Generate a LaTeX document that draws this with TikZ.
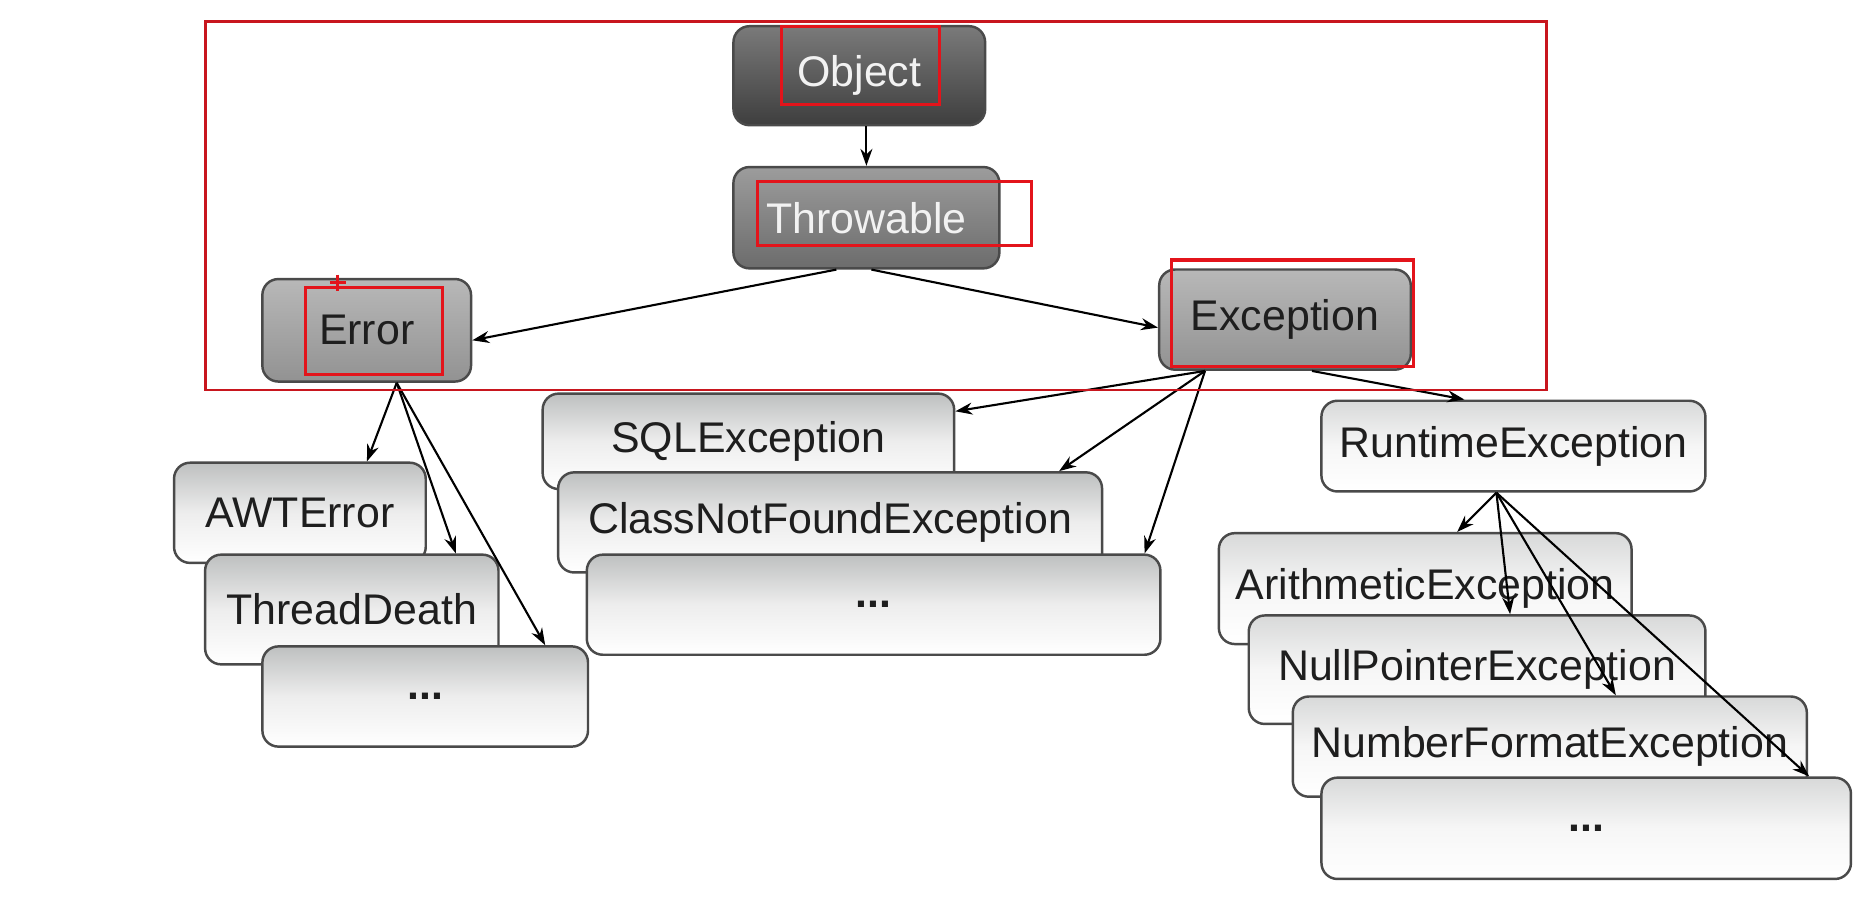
\documentclass[tikz,border=0pt]{standalone}
\usepackage{fontspec}
\setmainfont{Liberation Sans}
\usepackage{tikz}
\usetikzlibrary{arrows.meta}
\definecolor{BoxEdge}{HTML}{4A4A4A}
\definecolor{TextDark}{HTML}{1E1E1E}
\definecolor{TextLight}{HTML}{F2F2F2}
\definecolor{ObjTop}{HTML}{7A7A7A}
\definecolor{ObjBot}{HTML}{3E3E3E}
\definecolor{ThrTop}{HTML}{9C9C9C}
\definecolor{ThrBot}{HTML}{6C6C6C}
\definecolor{MidTop}{HTML}{B8B8B8}
\definecolor{MidBot}{HTML}{929292}
\definecolor{LeafTop}{HTML}{BEC0C0}
\definecolor{LightTop}{HTML}{D8D9D9}
\definecolor{MarkRed}{HTML}{E3141B}
\definecolor{FrameRed}{HTML}{C8161E}
\tikzset{
  classbox/.style={draw=BoxEdge, line width=0.7pt, rounded corners=1.6mm,
    inner sep=0pt, align=center, text=TextDark,
    font=\fontsize{12.2}{14}\selectfont},
  darkbox/.style={classbox, top color=ObjTop, bottom color=ObjBot, text=TextLight},
  greybox/.style={classbox, top color=ThrTop, bottom color=ThrBot, text=TextLight},
  midbox/.style={classbox, top color=MidTop, bottom color=MidBot},
  leafbox/.style={classbox, top color=LeafTop, bottom color=white, middle color=gray!14},
  lightbox/.style={classbox, top color=LightTop, bottom color=white, middle color=gray!7},
  arr/.style={-{Stealth[length=1.7mm,width=1.2mm]}, line width=0.6pt, black},
  redmark/.style={draw=MarkRed, line width=0.9pt}
}
\begin{document}
\begin{tikzpicture}
\useasboundingbox[fill=white] (0,0) rectangle (18.70,-9.06);

% top of the hierarchy
\node[darkbox, minimum width=2.517cm, minimum height=0.99cm] (obj) at (8.593,-0.757) {Object};
\node[greybox, minimum width=2.66cm, minimum height=1.013cm] (thr) at (8.664,-2.177) {Throwable};
\node[midbox, minimum width=2.087cm, minimum height=1.025cm] (err) at (3.667,-3.303) {Error};
\node[midbox, minimum width=2.516cm, minimum height=1.002cm] (exc) at (12.85,-3.196) {Exception};

% Error subclasses
\node[leafbox, minimum width=2.517cm, minimum height=1.002cm] (awt) at (2.999,-5.128) {AWTError};
\node[leafbox, minimum width=2.934cm, minimum height=1.097cm] (thd) at (3.518,-6.095) {ThreadDeath};
\node[leafbox, minimum width=3.256cm, minimum height=1.002cm] (dotl) at (4.252,-6.965) {\textbf{...}};

% checked exceptions
\node[leafbox, minimum width=4.115cm, minimum height=0.954cm] (sql) at (7.484,-4.413) {SQLException};
\node[leafbox, minimum width=5.439cm, minimum height=1.001cm] (cnf) at (8.301,-5.224) {ClassNotFoundException};
\node[leafbox, minimum width=5.736cm, minimum height=1.001cm] (dotm) at (8.736,-6.047) {\textbf{...}};

% runtime exceptions
\node[lightbox, minimum width=3.84cm, minimum height=0.907cm] (rte) at (15.134,-4.461) {RuntimeException};
\node[lightbox, minimum width=4.127cm, minimum height=1.109cm] (ari) at (14.252,-5.886) {ArithmeticException};
\node[lightbox, minimum width=4.567cm, minimum height=1.085cm] (npe) at (14.771,-6.697) {NullPointerException};
\node[lightbox, minimum width=5.14cm, minimum height=1.002cm] (nfe) at (15.498,-7.466) {NumberFormatException};
\node[lightbox, minimum width=5.295cm, minimum height=1.013cm] (dotr) at (15.862,-8.283) {\textbf{...}};

% inheritance arrows
\draw[arr] (thr.north |- obj.south) -- (thr.north);
\draw[arr] ([xshift=-3mm]thr.south) -- ([yshift=-1mm]err.east);
\draw[arr] ([xshift=0.5mm]thr.south) -- ([yshift=-0.8mm]exc.west);
\draw[arr] ([xshift=3mm]err.south) -- ([xshift=6.7mm]awt.north);
\draw[arr] ([xshift=3mm]err.south) -- ([xshift=10.4mm]thd.north);
\draw[arr] ([xshift=3mm]err.south) -- ([xshift=12mm]dotl.north);
\draw[arr] ([xshift=-8mm]exc.south) -- ([yshift=3mm]sql.east);
\draw[arr] ([xshift=-8mm]exc.south) -- ([xshift=22.9mm]cnf.north);
\draw[arr] ([xshift=-8mm]exc.south) -- ([xshift=27.1mm]dotm.north);
\draw[arr] ([xshift=2.7mm]exc.south) -- ([xshift=-4.9mm]rte.north);
\draw[arr] ([xshift=-1.7mm]rte.south) -- ([xshift=3.2mm]ari.north);
\draw[arr] ([xshift=-1.7mm]rte.south) -- ([xshift=3.3mm]npe.north);
\draw[arr] ([xshift=-1.7mm]rte.south) -- ([xshift=6.6mm]nfe.north);
\draw[arr] ([xshift=-1.7mm]rte.south) -- ([xshift=22.3mm]dotr.north);

% red marks
\draw[draw=FrameRed, line width=0.8pt] (2.051,-0.215) rectangle (15.468,-3.90);
\draw[redmark] (7.812,-0.262) rectangle (9.398,-1.049);
\draw[redmark] (7.573,-1.813) rectangle (10.316,-2.457);
\draw[redmark] (3.053,-2.874) rectangle (4.425,-3.745);
\draw[redmark] (11.711,-2.600) rectangle (14.132,-3.661);
\draw[redmark] (3.295,-2.826) -- (3.455,-2.826) (3.375,-2.746) -- (3.375,-2.906);
\end{tikzpicture}
\end{document}
